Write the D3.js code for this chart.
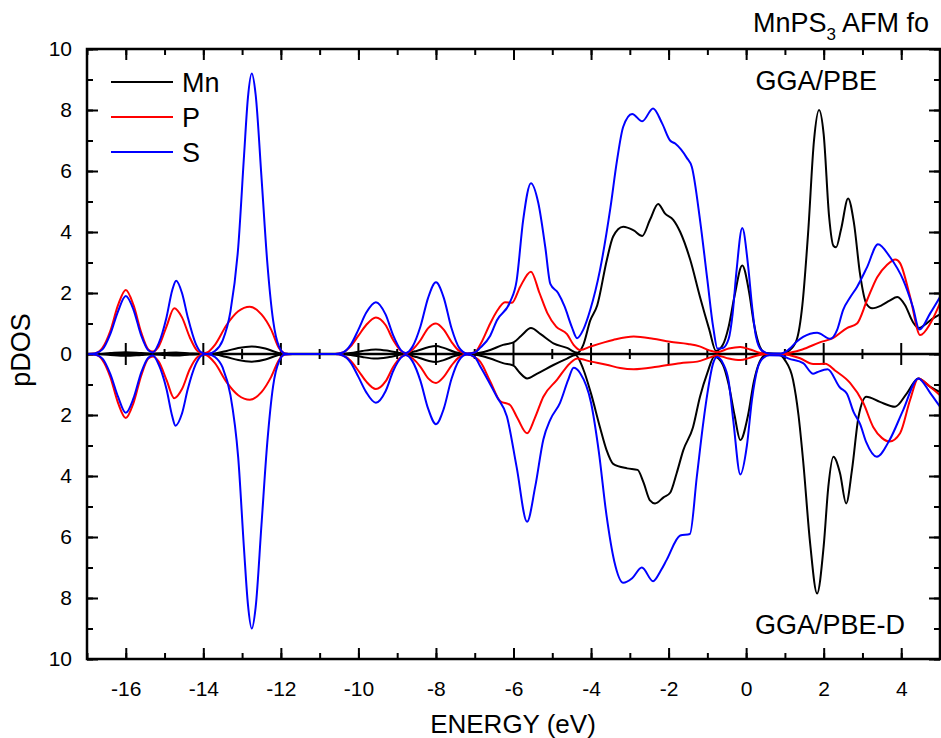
<!DOCTYPE html>
<html>
<head>
<meta charset="utf-8">
<script src="https://cdn.jsdelivr.net/npm/d3@7"></script>
<style>
  body { margin: 0; background: #fff; }
  text { font-family: Arial, "Liberation Sans", sans-serif; fill: #000; }
</style>
</head>
<body>
<svg id="chart" width="941" height="738"></svg>
<script>
// pDOS curves, [energy (eV), value]; "Dn" series are drawn below the zero line
const mnUp = [[-17,0],[-16.7,0],[-16.4,0.03],[-16,0.06],[-15.6,0.03],[-15.35,0.01],[-15.0,0.03],[-14.7,0.05],[-14.35,0.02],[-14.0,0],[-13.7,0.02],[-13.4,0.1],[-13.1,0.2],[-12.75,0.25],[-12.4,0.18],[-12.1,0.05],[-11.9,0],[-10.5,0],[-10.2,0.03],[-9.9,0.1],[-9.55,0.15],[-9.2,0.1],[-8.85,0.02],[-8.5,0.1],[-8.2,0.22],[-8.0,0.26],[-7.8,0.2],[-7.5,0.06],[-7.2,0],[-6.9,0.03],[-6.6,0.13],[-6.27,0.3],[-6.0,0.38],[-5.8,0.6],[-5.55,0.85],[-5.3,0.65],[-4.97,0.35],[-4.62,0.2],[-4.35,0.04],[-4.2,0.3],[-4.02,1.1],[-3.84,1.6],[-3.59,3.1],[-3.43,3.85],[-3.17,4.17],[-2.9,4.05],[-2.68,3.87],[-2.48,4.4],[-2.27,4.92],[-2.09,4.6],[-1.88,4.4],[-1.7,4.0],[-1.44,3.08],[-1.19,1.87],[-0.95,0.8],[-0.78,0.1],[-0.6,0.3],[-0.45,0.9],[-0.3,1.9],[-0.1,2.9],[0.08,2.0],[0.2,1.0],[0.35,0.25],[0.5,0.03],[0.9,0],[1.1,0.1],[1.3,0.45],[1.45,1.6],[1.6,4.0],[1.75,7.0],[1.88,8.0],[2.0,7.2],[2.14,4.5],[2.25,3.55],[2.32,3.5],[2.45,4.1],[2.63,5.1],[2.78,4.3],[2.94,2.6],[3.1,1.65],[3.25,1.5],[3.5,1.6],[3.7,1.75],[3.9,1.87],[4.1,1.6],[4.3,1.05],[4.45,0.85],[4.6,0.95],[4.8,1.15],[5.0,1.3]];

const pUp = [[-17,0],[-16.8,0.02],[-16.6,0.2],[-16.4,0.75],[-16.2,1.6],[-16.0,2.1],[-15.8,1.6],[-15.6,0.7],[-15.42,0.15],[-15.3,0.08],[-15.15,0.25],[-14.95,0.9],[-14.75,1.5],[-14.55,1.2],[-14.35,0.55],[-14.15,0.1],[-14.0,0.02],[-13.9,0.05],[-13.7,0.3],[-13.4,0.95],[-13.1,1.4],[-12.8,1.55],[-12.5,1.3],[-12.25,0.8],[-12.05,0.2],[-11.9,0.02],[-11.7,0],[-10.6,0],[-10.4,0.05],[-10.2,0.25],[-10.0,0.6],[-9.8,0.95],[-9.55,1.2],[-9.3,0.95],[-9.1,0.45],[-8.9,0.1],[-8.78,0.03],[-8.6,0.15],[-8.4,0.45],[-8.2,0.85],[-8.0,1.0],[-7.8,0.8],[-7.6,0.4],[-7.4,0.1],[-7.2,0.02],[-7.0,0.05],[-6.86,0.3],[-6.6,1.0],[-6.43,1.4],[-6.22,1.7],[-6.04,1.68],[-5.83,2.2],[-5.55,2.7],[-5.33,2.0],[-5.13,1.35],[-4.9,0.9],[-4.62,0.65],[-4.45,0.3],[-4.28,0.13],[-4.0,0.25],[-3.43,0.46],[-2.9,0.57],[-2.4,0.5],[-1.96,0.4],[-1.5,0.33],[-1.2,0.25],[-0.95,0.12],[-0.75,0.06],[-0.45,0.18],[-0.15,0.23],[0.1,0.15],[0.35,0.04],[0.55,0],[0.9,0],[1.15,0.05],[1.45,0.15],[1.9,0.38],[2.25,0.53],[2.6,0.85],[2.86,1.0],[3.12,1.77],[3.38,2.52],[3.63,2.92],[3.85,3.1],[3.97,2.98],[4.23,1.87],[4.49,0.62],[4.75,1.0],[5.0,1.67]];

const sUp = [[-17,0],[-16.8,0.02],[-16.6,0.15],[-16.4,0.65],[-16.2,1.4],[-16.0,1.9],[-15.8,1.45],[-15.6,0.6],[-15.42,0.12],[-15.3,0.05],[-15.15,0.35],[-14.95,1.2],[-14.8,2.1],[-14.7,2.4],[-14.55,2.0],[-14.4,1.2],[-14.2,0.35],[-14.05,0.05],[-13.9,0],[-13.7,0.1],[-13.5,0.45],[-13.3,1.4],[-13.1,3.5],[-12.95,6.5],[-12.85,8.4],[-12.75,9.2],[-12.65,8.5],[-12.5,5.8],[-12.35,3.0],[-12.2,1.1],[-12.05,0.25],[-11.9,0.02],[-11.7,0],[-10.6,0],[-10.4,0.05],[-10.2,0.3],[-10.0,0.8],[-9.8,1.35],[-9.55,1.7],[-9.3,1.3],[-9.1,0.6],[-8.9,0.12],[-8.78,0.03],[-8.6,0.25],[-8.4,0.9],[-8.2,1.85],[-8.0,2.35],[-7.8,1.85],[-7.6,0.85],[-7.4,0.2],[-7.2,0.02],[-7.0,0.05],[-6.86,0.2],[-6.6,0.6],[-6.43,1.1],[-6.09,1.7],[-5.92,2.4],[-5.75,4.4],[-5.55,5.6],[-5.36,4.95],[-5.18,3.5],[-5.05,2.3],[-4.85,2.0],[-4.68,1.55],[-4.5,0.9],[-4.36,0.52],[-4.2,0.8],[-4.02,1.45],[-3.77,2.75],[-3.5,4.8],[-3.33,6.35],[-3.17,7.45],[-2.94,7.87],[-2.68,7.63],[-2.4,8.05],[-2.17,7.57],[-1.96,7.0],[-1.83,6.9],[-1.53,6.43],[-1.4,6.13],[-1.19,4.4],[-1.0,2.43],[-0.85,0.88],[-0.74,0.18],[-0.6,0.2],[-0.45,0.5],[-0.35,1.3],[-0.25,2.7],[-0.1,4.13],[0.05,2.9],[0.15,1.6],[0.25,0.6],[0.4,0.12],[0.6,0.02],[0.9,0.02],[1.1,0.15],[1.3,0.4],[1.47,0.56],[1.83,0.7],[2.17,0.5],[2.35,0.8],[2.5,1.44],[2.68,1.85],[2.86,2.2],[3.12,2.85],[3.4,3.6],[3.71,3.18],[4.05,2.43],[4.3,1.54],[4.47,0.8],[4.75,1.34],[5.0,1.87]];

const mnDn = [[-17,0],[-16.7,0],[-16.4,0.03],[-16,0.06],[-15.6,0.03],[-15.35,0.01],[-15.0,0.03],[-14.7,0.05],[-14.35,0.02],[-14.0,0],[-13.7,0.02],[-13.4,0.1],[-13.1,0.2],[-12.75,0.25],[-12.4,0.18],[-12.1,0.05],[-11.9,0],[-10.5,0],[-10.2,0.03],[-9.9,0.1],[-9.55,0.15],[-9.2,0.1],[-8.85,0.02],[-8.5,0.1],[-8.2,0.22],[-8.0,0.26],[-7.8,0.2],[-7.5,0.06],[-7.2,0],[-6.9,0.04],[-6.6,0.15],[-6.27,0.3],[-6.0,0.38],[-5.85,0.6],[-5.65,0.8],[-5.4,0.65],[-4.97,0.36],[-4.62,0.15],[-4.4,0.03],[-4.2,0.5],[-4.0,1.3],[-3.77,2.4],[-3.6,3.15],[-3.43,3.6],[-3.07,3.75],[-2.8,3.8],[-2.65,4.2],[-2.48,4.8],[-2.35,4.9],[-2.13,4.7],[-1.96,4.55],[-1.79,3.9],[-1.62,3.15],[-1.37,2.4],[-1.19,1.4],[-1.0,0.62],[-0.82,0.08],[-0.6,0.35],[-0.45,1.0],[-0.3,2.0],[-0.15,2.82],[0.05,2.0],[0.2,0.9],[0.35,0.25],[0.5,0.03],[0.7,0],[0.9,0.05],[1.0,0.2],[1.21,0.85],[1.35,2.0],[1.47,3.5],[1.65,6.2],[1.83,7.85],[2.0,6.3],[2.12,4.35],[2.25,3.37],[2.42,3.9],[2.58,4.9],[2.73,3.8],[2.9,2.05],[3.1,1.4],[3.45,1.57],[3.84,1.73],[4.15,1.28],[4.44,0.8],[4.75,1.08],[5.0,1.25]];

const pDn = [[-17,0],[-16.8,0.02],[-16.6,0.2],[-16.4,0.75],[-16.2,1.6],[-16.0,2.1],[-15.8,1.6],[-15.6,0.7],[-15.42,0.15],[-15.3,0.08],[-15.15,0.25],[-14.95,0.85],[-14.75,1.45],[-14.55,1.15],[-14.35,0.5],[-14.15,0.1],[-14.0,0.02],[-13.9,0.05],[-13.7,0.3],[-13.4,0.92],[-13.1,1.35],[-12.8,1.5],[-12.5,1.25],[-12.25,0.75],[-12.05,0.2],[-11.9,0.02],[-11.7,0],[-10.6,0],[-10.4,0.05],[-10.2,0.22],[-10.0,0.55],[-9.8,0.9],[-9.55,1.15],[-9.3,0.9],[-9.1,0.42],[-8.9,0.1],[-8.78,0.03],[-8.6,0.15],[-8.4,0.42],[-8.2,0.8],[-8.0,0.95],[-7.8,0.75],[-7.6,0.38],[-7.4,0.1],[-7.2,0.02],[-7.0,0.1],[-6.86,0.25],[-6.6,0.9],[-6.34,1.55],[-6.09,1.67],[-5.9,2.1],[-5.65,2.6],[-5.45,2.1],[-5.23,1.4],[-4.88,0.85],[-4.54,0.3],[-4.35,0.15],[-4.0,0.25],[-3.6,0.35],[-3.25,0.46],[-2.9,0.5],[-2.3,0.42],[-1.7,0.3],[-1.26,0.25],[-0.95,0.12],[-0.75,0.05],[-0.45,0.15],[-0.15,0.2],[0.1,0.12],[0.35,0.03],[0.55,0],[0.9,0],[1.15,0.05],[1.39,0.14],[1.73,0.33],[2.04,0.32],[2.3,0.55],[2.68,0.95],[3.02,1.6],[3.28,2.4],[3.5,2.75],[3.7,2.87],[3.97,2.6],[4.23,1.5],[4.44,0.8],[4.75,1.08],[5.0,1.35]];

const sDn = [[-17,0],[-16.8,0.02],[-16.6,0.15],[-16.4,0.65],[-16.2,1.4],[-16.0,1.93],[-15.8,1.45],[-15.6,0.6],[-15.42,0.12],[-15.3,0.05],[-15.15,0.35],[-14.95,1.15],[-14.8,2.05],[-14.72,2.35],[-14.55,1.95],[-14.4,1.15],[-14.2,0.35],[-14.05,0.05],[-13.9,0],[-13.7,0.1],[-13.5,0.45],[-13.3,1.35],[-13.1,3.4],[-12.95,6.4],[-12.85,8.2],[-12.75,9.0],[-12.65,8.3],[-12.5,5.6],[-12.35,2.9],[-12.2,1.05],[-12.05,0.25],[-11.9,0.02],[-11.7,0],[-10.6,0],[-10.4,0.05],[-10.2,0.28],[-10.0,0.75],[-9.8,1.25],[-9.55,1.6],[-9.3,1.22],[-9.1,0.55],[-8.9,0.12],[-8.78,0.03],[-8.6,0.25],[-8.4,0.88],[-8.2,1.8],[-8.0,2.3],[-7.8,1.8],[-7.6,0.82],[-7.4,0.2],[-7.2,0.02],[-7.0,0.1],[-6.86,0.4],[-6.43,1.4],[-6.17,2.05],[-5.92,3.7],[-5.65,5.5],[-5.44,4.35],[-5.23,2.8],[-5.05,2.15],[-4.8,1.6],[-4.59,0.85],[-4.45,0.45],[-4.28,0.63],[-4.0,1.6],[-3.8,3.2],[-3.6,5.3],[-3.4,6.8],[-3.17,7.5],[-2.94,7.35],[-2.69,7.0],[-2.4,7.45],[-2.2,7.1],[-2.05,6.75],[-1.7,5.95],[-1.45,5.9],[-1.27,4.0],[-1.1,2.2],[-1.0,1.3],[-0.85,0.3],[-0.75,0.1],[-0.6,0.3],[-0.45,0.9],[-0.33,2.2],[-0.15,3.95],[0.02,3.0],[0.15,1.5],[0.3,0.45],[0.45,0.12],[0.6,0.04],[0.9,0.05],[1.1,0.15],[1.47,0.3],[1.73,0.65],[1.83,0.6],[2.1,0.5],[2.42,1.1],[2.6,1.3],[2.77,1.9],[2.94,2.3],[3.1,2.9],[3.37,3.37],[3.7,2.82],[4.05,1.84],[4.44,0.8],[4.75,1.28],[5.0,1.73]];

const elements = ["Mn", "P", "S"];
const colors = ["#000000", "#ff0000", "#0000ff"];
const xTicks = [-16, -14, -12, -10, -8, -6, -4, -2, 0, 2, 4];
const yTicks = [-10, -8, -6, -4, -2, 0, 2, 4, 6, 8, 10];

const svg = d3.select("#chart"),
      margin = { top: 49, right: 1, bottom: 79, left: 87 },
      width = +svg.attr("width") - margin.left - margin.right,
      height = +svg.attr("height") - margin.top - margin.bottom;

const g = svg.append("g")
  .attr("transform", `translate(${margin.left},${margin.top})`);

const x = d3.scaleLinear().domain([-17, 5]).range([0, width]);
const y = d3.scaleLinear().domain([-10, 10]).range([height, 0]);

svg.append("defs").append("clipPath").attr("id", "clip")
  .append("rect").attr("width", width).attr("height", height);

const minorX = d3.range(-17, 6, 1);
const minorY = d3.range(-10, 11, 1);
const fmtX = d => String(d);          // plain hyphen, not the unicode minus
const fmtAbs = d => String(Math.abs(d));

/* AXES (ticks pointing inward) */
function styleAxis(sel) {
  sel.select(".domain").remove();
  sel.selectAll("line").attr("stroke", "#000").attr("stroke-width", 2);
  sel.selectAll("text").style("font-size", "21px").style("font-family", "Arial, 'Liberation Sans', sans-serif");
}

// minor ticks
g.append("g").attr("transform", `translate(0,${height})`)
  .call(d3.axisBottom(x).tickValues(minorX).tickSize(-6).tickFormat("")).call(styleAxis);
g.append("g")
  .call(d3.axisTop(x).tickValues(minorX).tickSize(-6).tickFormat("")).call(styleAxis);
g.append("g")
  .call(d3.axisLeft(y).tickValues(minorY).tickSize(-6).tickFormat("")).call(styleAxis);
g.append("g").attr("transform", `translate(${width},0)`)
  .call(d3.axisRight(y).tickValues(minorY).tickSize(-6).tickFormat("")).call(styleAxis);

// major ticks + labels
g.append("g").attr("transform", `translate(0,${height})`)
  .call(d3.axisBottom(x).tickValues(xTicks).tickSize(-11).tickPadding(22).tickFormat(fmtX)).call(styleAxis);
g.append("g")
  .call(d3.axisTop(x).tickValues(xTicks).tickSize(-11).tickFormat("")).call(styleAxis);
g.append("g")
  .call(d3.axisLeft(y).tickValues(yTicks).tickSize(-11).tickPadding(15).tickFormat(fmtAbs)).call(styleAxis);
g.append("g").attr("transform", `translate(${width},0)`)
  .call(d3.axisRight(y).tickValues(yTicks).tickSize(-11).tickFormat("")).call(styleAxis);

/* ZERO LINE with crossing ticks */
const zero = g.append("g");
zero.append("line")
  .attr("x1", 0).attr("x2", width)
  .attr("y1", y(0)).attr("y2", y(0))
  .attr("stroke", "#000").attr("stroke-width", 2.5);
zero.selectAll(".zt")
  .data(d3.range(-16, 5, 1))
  .enter().append("line")
  .attr("x1", d => x(d)).attr("x2", d => x(d))
  .attr("y1", d => y(0) - (d % 2 === 0 ? 11 : 5))
  .attr("y2", d => y(0) + (d % 2 === 0 ? 11 : 5))
  .attr("stroke", "#000").attr("stroke-width", 2);

/* CURVES */
const lineUp = d3.line().x(d => x(d[0])).y(d => y(d[1])).curve(d3.curveMonotoneX);
const lineDn = d3.line().x(d => x(d[0])).y(d => y(-d[1])).curve(d3.curveMonotoneX);

const series = [
  { up: mnUp, dn: mnDn, color: colors[0] },
  { up: pUp, dn: pDn, color: colors[1] },
  { up: sUp, dn: sDn, color: colors[2] }
];

const curves = g.append("g").attr("clip-path", "url(#clip)");
series.forEach(s => {
  curves.append("path").attr("d", lineUp(s.up))
    .attr("fill", "none").attr("stroke", s.color).attr("stroke-width", 2);
  curves.append("path").attr("d", lineDn(s.dn))
    .attr("fill", "none").attr("stroke", s.color).attr("stroke-width", 2);
});

/* FRAME */
g.append("rect")
  .attr("width", width).attr("height", height)
  .attr("fill", "none").attr("stroke", "#000").attr("stroke-width", 2.5);

/* LEGEND */
const legend = g.append("g").attr("transform", "translate(24,33)");
elements.forEach((name, i) => {
  legend.append("line")
    .attr("x1", 0).attr("x2", 62)
    .attr("y1", i * 35).attr("y2", i * 35)
    .attr("stroke", colors[i]).attr("stroke-width", 2);
  legend.append("text")
    .attr("x", 71).attr("y", i * 35 + 10)
    .style("font-size", "27px")
    .text(name);
});

/* LABELS */
g.append("text")
  .attr("x", width - 63).attr("y", 41)
  .attr("text-anchor", "end")
  .style("font-size", "27px")
  .text("GGA/PBE");

g.append("text")
  .attr("x", width - 35).attr("y", 585)
  .attr("text-anchor", "end")
  .style("font-size", "27px")
  .text("GGA/PBE-D");

const title = svg.append("text")
  .attr("x", 753).attr("y", 32)
  .style("font-size", "27px");
title.append("tspan").text("MnPS");
title.append("tspan").attr("dy", 8).style("font-size", "17px").text("3");
title.append("tspan").attr("dy", -8).text(" AFM fo");

svg.append("text")
  .attr("x", 513).attr("y", 733)
  .attr("text-anchor", "middle")
  .style("font-size", "26px")
  .text("ENERGY (eV)");

svg.append("text")
  .attr("transform", "rotate(-90)")
  .attr("x", -350).attr("y", 30)
  .attr("text-anchor", "middle")
  .style("font-size", "27px")
  .text("pDOS");
</script>
</body>
</html>
